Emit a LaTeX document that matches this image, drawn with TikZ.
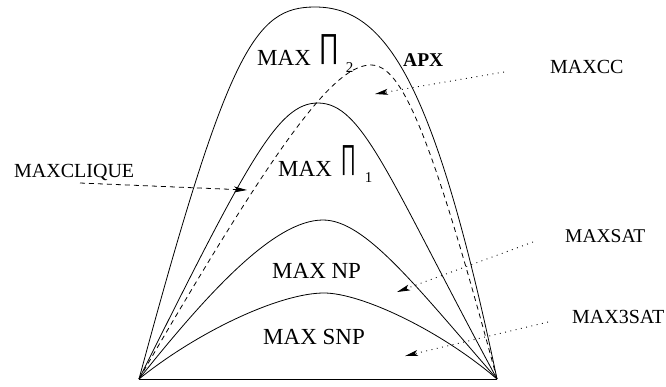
\documentclass[tikz,border=0pt]{standalone}
\usepackage{fontspec}
\usepackage{graphicx}
\setmainfont{Liberation Serif}
\newfontfamily\prodfont{Liberation Sans}
\usetikzlibrary{arrows.meta}
\newcommand{\myprod}[1]{\resizebox*{#1}{30pt}{\raisebox{\depth}{\prodfont ∏}}}
\begin{document}
\begin{tikzpicture}[x=1pt,y=-1pt,
  curve/.style={line width=0.8pt},
  dashcurve/.style={line width=0.8pt, dash pattern=on 5pt off 4pt},
  tip/.style={-{Stealth[length=13pt,width=6pt,inset=3pt]}},
  dotarrow/.style={line width=0.9pt, dash pattern=on 0.9pt off 4.5pt, tip},
  dasharrow/.style={line width=0.8pt, dash pattern=on 5pt off 4pt, tip},
  mainlabel/.style={inner sep=0pt, anchor=base west, font=\fontsize{23}{23}\selectfont},
  sidelabel/.style={inner sep=0pt, anchor=base west, font=\fontsize{20}{20}\selectfont}]
\useasboundingbox (0,0) rectangle (666,386);
% corners and peaks
\coordinate (L) at (139,379);
\coordinate (R) at (497,379);
\coordinate (P2) at (315,7);
\coordinate (P1) at (318,103);
\coordinate (PA) at (371,65);
\coordinate (PN) at (323,220);
\coordinate (PS) at (324,293);
% curves
\draw[curve] (L) .. controls (228,49) and (255,7) .. (P2) .. controls (385,7) and (434,79) .. (R);
\draw[curve] (L) .. controls (249,159) and (278,103) .. (P1) .. controls (363,103) and (389,179) .. (R);
\draw[dashcurve] (L) .. controls (284,129) and (336,65) .. (PA) .. controls (401,65) and (430,129) .. (R);
\draw[curve] (L) .. controls (210,290) and (275,220) .. (PN) .. controls (365,220) and (415,285) .. (R);
\draw[curve] (L) .. controls (200,330) and (281,293) .. (PS) .. controls (361,293) and (440,330) .. (R);
\draw[curve] (L) -- (R);
% labels
\node[mainlabel] (pi2) at (257,65) {MAX\hspace{8pt}\myprod{20pt}\hspace{7pt}\raisebox{-7pt}{\fontsize{15}{15}\selectfont 2}};
\node[mainlabel] (pi1) at (278,176) {MAX\hspace{9pt}\myprod{15pt}\hspace{9pt}\raisebox{-6pt}{\fontsize{15}{15}\selectfont 1}};
\node[mainlabel] (np) at (272,278) {MAX NP};
\node[mainlabel] (snp) at (263,344) {MAX SNP};
\node[sidelabel, font=\fontsize{19.5}{19.5}\selectfont\bfseries] (apx) at (403,66) {APX};
\node[sidelabel] (clique) at (14,177) {MAXCLIQUE};
\node[sidelabel] (cc) at (550,73) {MAXCC};
\node[sidelabel, font=\fontsize{19.5}{19.5}\selectfont] (sat) at (565,242) {MAXSAT};
\node[sidelabel] (sat3) at (572,323) {MAX3SAT};
% arrow ends
\coordinate (cliqueS) at (80,183);
\coordinate (cliqueT) at (247,190);
\coordinate (ccS) at (504,72);
\coordinate (ccT) at (375,94);
\coordinate (satS) at (533,242);
\coordinate (satT) at (397,292);
\coordinate (sat3S) at (548,322);
\coordinate (sat3T) at (405,356);
\draw[dasharrow] (cliqueS) -- (cliqueT);
\draw[dotarrow] (ccS) -- (ccT);
\draw[dotarrow] (satS) -- (satT);
\draw[dotarrow] (sat3S) -- (sat3T);
\end{tikzpicture}
\end{document}
